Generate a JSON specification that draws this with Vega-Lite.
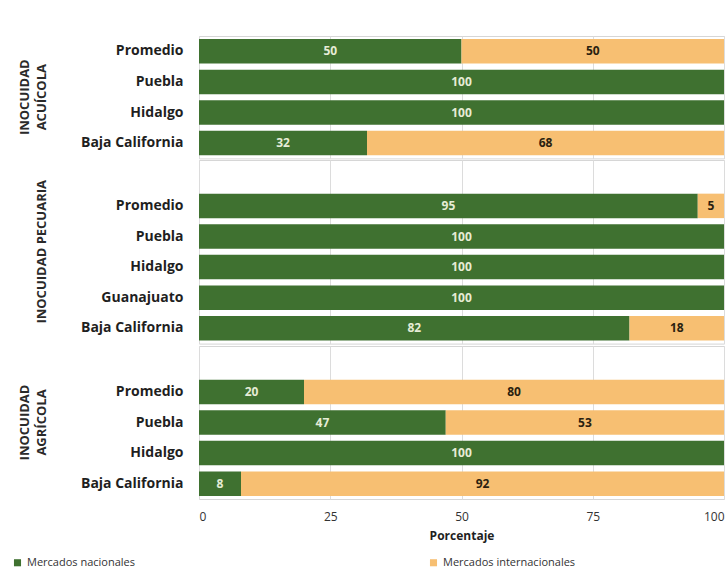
{
  "$schema": "https://vega.github.io/schema/vega-lite/v6.json",
  "background": "#ffffff",
  "padding": {"left": 12, "top": 35, "right": 0, "bottom": 0},
  "data": {"values": [
    {"g": "INOCUIDAD ACUÍCOLA", "c": "Promedio", "m": "Mercados nacionales", "v": 50},
    {"g": "INOCUIDAD ACUÍCOLA", "c": "Promedio", "m": "Mercados internacionales", "v": 50},
    {"g": "INOCUIDAD ACUÍCOLA", "c": "Puebla", "m": "Mercados nacionales", "v": 100},
    {"g": "INOCUIDAD ACUÍCOLA", "c": "Hidalgo", "m": "Mercados nacionales", "v": 100},
    {"g": "INOCUIDAD ACUÍCOLA", "c": "Baja California", "m": "Mercados nacionales", "v": 32},
    {"g": "INOCUIDAD ACUÍCOLA", "c": "Baja California", "m": "Mercados internacionales", "v": 68},
    {"g": "INOCUIDAD PECUARIA", "c": " ", "m": "Mercados nacionales", "v": 0},
    {"g": "INOCUIDAD PECUARIA", "c": "Promedio", "m": "Mercados nacionales", "v": 95},
    {"g": "INOCUIDAD PECUARIA", "c": "Promedio", "m": "Mercados internacionales", "v": 5},
    {"g": "INOCUIDAD PECUARIA", "c": "Puebla", "m": "Mercados nacionales", "v": 100},
    {"g": "INOCUIDAD PECUARIA", "c": "Hidalgo", "m": "Mercados nacionales", "v": 100},
    {"g": "INOCUIDAD PECUARIA", "c": "Guanajuato", "m": "Mercados nacionales", "v": 100},
    {"g": "INOCUIDAD PECUARIA", "c": "Baja California", "m": "Mercados nacionales", "v": 82},
    {"g": "INOCUIDAD PECUARIA", "c": "Baja California", "m": "Mercados internacionales", "v": 18},
    {"g": "INOCUIDAD AGRÍCOLA", "c": " ", "m": "Mercados nacionales", "v": 0},
    {"g": "INOCUIDAD AGRÍCOLA", "c": "Promedio", "m": "Mercados nacionales", "v": 20},
    {"g": "INOCUIDAD AGRÍCOLA", "c": "Promedio", "m": "Mercados internacionales", "v": 80},
    {"g": "INOCUIDAD AGRÍCOLA", "c": "Puebla", "m": "Mercados nacionales", "v": 47},
    {"g": "INOCUIDAD AGRÍCOLA", "c": "Puebla", "m": "Mercados internacionales", "v": 53},
    {"g": "INOCUIDAD AGRÍCOLA", "c": "Hidalgo", "m": "Mercados nacionales", "v": 100},
    {"g": "INOCUIDAD AGRÍCOLA", "c": "Baja California", "m": "Mercados nacionales", "v": 8},
    {"g": "INOCUIDAD AGRÍCOLA", "c": "Baja California", "m": "Mercados internacionales", "v": 92}
  ]},
  "facet": {
    "row": {
      "field": "g",
      "type": "nominal",
      "sort": ["INOCUIDAD ACUÍCOLA", "INOCUIDAD PECUARIA", "INOCUIDAD AGRÍCOLA"],
      "header": {
        "title": null,
        "labelAngle": -90,
        "labelOrient": "left",
        "labelExpr": "datum.value == 'INOCUIDAD PECUARIA' ? datum.value : split(datum.value, ' ')",
        "labelFont": "Open Sans",
        "labelFontWeight": "bold",
        "labelFontSize": 13,
        "labelColor": "#2a2a2a",
        "labelPadding": 24,
        "labelLineHeight": 17
      }
    }
  },
  "spacing": 0,
  "resolve": {"scale": {"y": "independent"}},
  "spec": {
    "width": 525,
    "height": {"step": 30.6},
    "encoding": {
      "y": {
        "field": "c",
        "type": "nominal",
        "sort": [" ", "Promedio", "Puebla", "Hidalgo", "Guanajuato", "Baja California"],
        "scale": {"paddingInner": 0.2, "paddingOuter": 0.1},
        "axis": {
          "title": null,
          "ticks": false,
          "domain": false,
          "labelFont": "Open Sans",
          "labelFontWeight": "bold",
          "labelFontSize": 14,
          "labelColor": "#1f1f1f",
          "labelPadding": 16
        }
      }
    },
    "layer": [
      {
        "mark": {"type": "bar"},
        "encoding": {
          "x": {
            "field": "v",
            "type": "quantitative",
            "stack": "zero",
            "scale": {"domain": [0, 100]},
            "axis": {
              "title": "Porcentaje",
              "values": [0, 25, 50, 75, 100],
              "ticks": false,
              "domain": false,
              "grid": true,
              "gridColor": "#dcdcdc",
              "labelFont": "Open Sans",
              "labelFontSize": 12,
              "labelColor": "#333333",
              "labelPadding": 11,
              "titleFont": "Open Sans",
              "titleFontWeight": "bold",
              "titleFontSize": 12,
              "titleColor": "#1f1f1f",
              "titlePadding": 8
            }
          },
          "color": {
            "field": "m",
            "type": "nominal",
            "scale": {"domain": ["Mercados nacionales", "Mercados internacionales"], "range": ["#3f7130", "#f7bf72"]},
            "legend": {
              "title": null,
              "orient": "none",
              "legendX": -187,
              "legendY": 521,
              "direction": "horizontal",
              "symbolType": "square",
              "symbolSize": 50,
              "symbolStrokeWidth": 0,
              "labelFont": "Open Sans",
              "labelFontSize": 11,
              "labelColor": "#333333",
              "columnPadding": 293
            }
          },
          "order": {"field": "m", "sort": "descending"}
        }
      },
      {
        "transform": [
          {"stack": "v", "groupby": ["g", "c"], "sort": [{"field": "m", "order": "descending"}], "as": ["v0", "v1"]},
          {"filter": "datum.v > 0"},
          {"calculate": "(datum.v0 + datum.v1) / 2", "as": "mid"}
        ],
        "mark": {"type": "text", "font": "Open Sans", "fontSize": 12, "fontWeight": "bold"},
        "encoding": {
          "x": {"field": "mid", "type": "quantitative"},
          "text": {"field": "v", "type": "quantitative"},
          "color": {
            "condition": {"test": "datum.m == 'Mercados nacionales'", "value": "#e6ecd6"},
            "value": "#2b1f10"
          }
        }
      }
    ]
  },
  "config": {
    "view": {"stroke": "#d6d6d6", "strokeWidth": 1}
  }
}
